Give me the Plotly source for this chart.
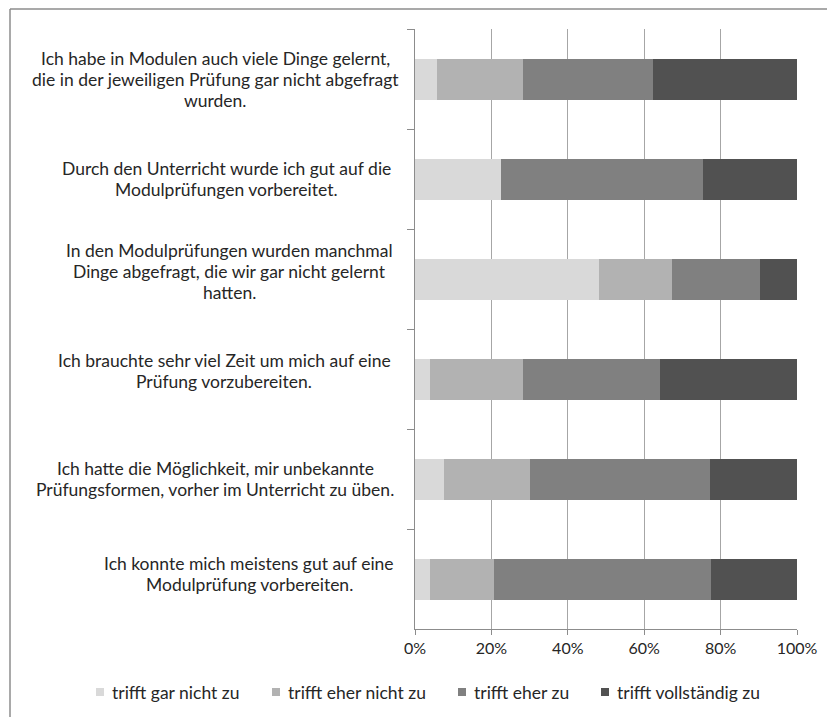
import plotly.graph_objects as go

# Survey statements (top to bottom), one list of text lines per statement
statements = [
    ["Ich habe in Modulen auch viele Dinge gelernt,",
     "die in der jeweiligen Prüfung gar nicht abgefragt",
     "wurden."],
    ["Durch den Unterricht wurde ich gut auf die",
     "Modulprüfungen vorbereitet."],
    ["In den Modulprüfungen wurden manchmal",
     "Dinge abgefragt, die wir gar nicht gelernt",
     "hatten."],
    ["Ich brauchte sehr viel Zeit um mich auf eine",
     "Prüfung vorzubereiten."],
    ["Ich hatte die Möglichkeit, mir unbekannte",
     "Prüfungsformen, vorher im Unterricht zu üben."],
    ["Ich konnte mich meistens gut auf eine",
     "Modulprüfung vorbereiten."],
]

answer_levels = [
    "trifft gar nicht zu",
    "trifft eher nicht zu",
    "trifft eher zu",
    "trifft vollständig zu",
]

# Shares in percent, one list per answer level, in statement order
gar_nicht = [5.7, 22.6, 48.1, 3.8, 7.5, 3.8]
eher_nicht = [22.6, 0.0, 19.2, 24.5, 22.6, 17.0]
eher_zu = [34.0, 52.8, 23.1, 35.8, 47.2, 56.6]
vollstaendig = [37.7, 24.6, 9.6, 35.9, 22.7, 22.6]

series = [gar_nicht, eher_nicht, eher_zu, vollstaendig]
colors = ["#d9d9d9", "#b2b2b2", "#808080", "#515151"]

# Figure geometry (pixels)
W, H = 827, 717
ML, MR, MT, MB = 415, 30, 29, 88
PW, PH = W - ML - MR, H - MT - MB


def px_x(px):
    return (px - ML) / PW


def px_y(py):
    return (H - MB - py) / PH


cat_ids = [f"s{i}" for i in range(len(statements))]

fig = go.Figure()
for name, vals, col in zip(answer_levels, series, colors):
    fig.add_trace(go.Bar(
        y=cat_ids,
        x=[v / 100 for v in vals],
        orientation="h",
        name=name,
        marker=dict(color=col, line=dict(width=0)),
        hoverinfo="x+name",
        showlegend=False,
    ))

font_family = "Lato, 'Open Sans', sans-serif"
text_color = "#262626"
label_font = dict(family=font_family, size=17.5, color=text_color)

# Statement labels: each block centred on its own x, lines spaced evenly,
# with a small vertical nudge per block
label_center = [215, 226, 229, 224, 215, 249]
label_nudge = [0, 0, 8, 8, 0, 5]
line_step = 21
annotations = []
for cid, lines, xc, dy in zip(cat_ids, statements, label_center, label_nudge):
    n = len(lines)
    for k, line in enumerate(lines):
        annotations.append(dict(
            x=px_x(xc), xref="paper", y=cid, yref="y",
            yshift=dy - (k - (n - 1) / 2) * line_step,
            text=line, showarrow=False, xanchor="center", yanchor="middle",
            font=label_font,
        ))

# Legend row below the axis: small swatch followed by its label
legend_swatch_left = [96, 272, 458, 601]
legend_y = 692
swatch = 8
shapes = []
for name, col, sx in zip(answer_levels, colors, legend_swatch_left):
    shapes.append(dict(
        type="rect", xref="paper", yref="paper",
        x0=px_x(sx), x1=px_x(sx + swatch),
        y0=px_y(legend_y + swatch / 2), y1=px_y(legend_y - swatch / 2),
        fillcolor=col, line=dict(width=0),
    ))
    annotations.append(dict(
        x=px_x(sx + swatch + 6), xref="paper", y=px_y(legend_y), yref="paper",
        text=name, showarrow=False, xanchor="left", yanchor="middle",
        font=label_font,
    ))

# Outer frame (top and left edges)
shapes += [
    dict(type="line", xref="paper", yref="paper",
         x0=px_x(10), x1=px_x(W + 5), y0=px_y(9), y1=px_y(9),
         line=dict(color="#8c8c8c", width=1.5)),
    dict(type="line", xref="paper", yref="paper",
         x0=px_x(10), x1=px_x(10), y0=px_y(9), y1=px_y(H + 5),
         line=dict(color="#8c8c8c", width=1.5)),
]

fig.update_layout(
    width=W, height=H,
    margin=dict(l=ML, r=MR, t=MT, b=MB, pad=0, autoexpand=False),
    barmode="stack",
    bargap=0.59,
    plot_bgcolor="white",
    paper_bgcolor="white",
    font=dict(family=font_family, size=16, color=text_color),
    showlegend=False,
    annotations=annotations,
    shapes=shapes,
    xaxis=dict(
        range=[0, 1], tickformat=".0%", dtick=0.2, tick0=0,
        showgrid=True, gridcolor="#a6a6a6", gridwidth=1,
        showline=True, linecolor="#8c8c8c", linewidth=1,
        ticks="outside", ticklen=5, tickcolor="#8c8c8c",
        zeroline=False,
        tickfont=dict(family=font_family, size=16, color=text_color),
    ),
    yaxis=dict(
        autorange="reversed", type="category",
        showticklabels=False, showgrid=False,
        showline=True, linecolor="#8c8c8c", linewidth=1,
        ticks="outside", ticklen=7, tickcolor="#8c8c8c",
        tickson="boundaries",
    ),
)

fig.write_html("out.html")
